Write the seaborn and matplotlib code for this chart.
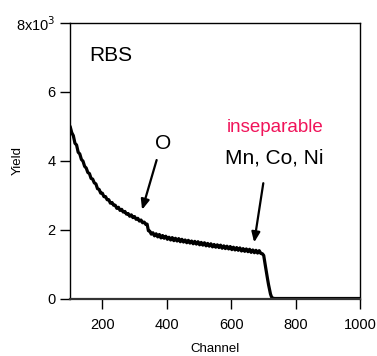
import pandas as pd
import matplotlib
matplotlib.use("Agg")
import matplotlib.pyplot as plt
import seaborn as sns

# RBS spectrum, values
channel = [100, 105, 110, 115, 120, 125, 130, 135, 140, 145, 150, 155, 160, 165, 170,
           175, 180, 185, 190, 195, 200, 205, 210, 215, 220, 225, 230, 235, 240, 245,
           250, 255, 260, 265, 270, 275, 280, 285, 290, 295, 300, 305, 310, 315, 320,
           325, 330, 335, 339, 343, 347, 352, 357, 362, 367, 372, 377, 382, 387, 392,
           397, 402, 407, 412, 417, 422, 427, 432, 437, 442, 447, 452, 457, 462, 467,
           472, 477, 482, 487, 492, 497, 502, 507, 512, 517, 522, 527, 532, 537, 542,
           547, 552, 557, 562, 567, 572, 577, 582, 587, 592, 597, 602, 607, 612, 617,
           622, 627, 632, 637, 642, 647, 652, 657, 662, 667, 672, 677, 682, 687, 692,
           697, 701, 704, 707, 710, 713, 716, 719, 722, 725, 729, 735, 745, 760, 800,
           850, 900, 950, 1000]
yield_counts = [5000, 4820, 4730, 4510, 4460, 4250, 4200, 4040, 3990, 3840, 3790, 3660, 3630, 3490, 3470,
                3360, 3330, 3190, 3170, 3060, 3060, 2960, 2960, 2870, 2870, 2770, 2790, 2710, 2710, 2620,
                2650, 2560, 2590, 2510, 2530, 2450, 2470, 2390, 2430, 2350, 2380, 2300, 2330, 2250, 2280,
                2200, 2220, 2150, 2160, 1970, 1960, 1870, 1910, 1820, 1880, 1790, 1860, 1760, 1830, 1750,
                1810, 1720, 1780, 1700, 1770, 1680, 1750, 1670, 1740, 1650, 1720, 1640, 1700, 1620, 1690,
                1610, 1670, 1590, 1660, 1580, 1650, 1560, 1630, 1550, 1620, 1530, 1600, 1520, 1590, 1500,
                1570, 1490, 1560, 1480, 1550, 1460, 1530, 1450, 1520, 1440, 1510, 1420, 1490, 1410, 1480,
                1400, 1470, 1380, 1450, 1370, 1440, 1360, 1430, 1340, 1410, 1330, 1400, 1320, 1390, 1310,
                1300, 1250, 1080, 900, 720, 560, 400, 260, 130, 50, 10, 0, 0, 0, 0,
                0, 0, 0, 0]

df = pd.DataFrame({"Channel": channel, "Yield": yield_counts})

sns.set_style("ticks")
plt.rcParams["font.family"] = ["Liberation Sans", "DejaVu Sans"]
plt.rcParams["text.color"] = "black"
plt.rcParams["axes.labelcolor"] = "black"

fig = plt.figure(figsize=(3.77, 3.56), dpi=100)
ax = fig.add_axes([0.186, 0.1615, 0.769, 0.7735])

sns.lineplot(x="Channel", y="Yield", data=df, ax=ax, color="black", linewidth=2.3)

ax.set_xlim(100, 1000)
ax.set_ylim(0, 8000)
ax.set_xticks([200, 400, 600, 800, 1000])
ax.set_yticks([0, 2000, 4000, 6000, 8000], labels=["0", "2", "4", "6", "8x10$^3$"])
ax.set_xlabel("Channel", fontsize=9.5)
ax.set_ylabel("Yield", fontsize=9.5)
ax.xaxis.set_label_coords(0.5, -0.163)
ax.yaxis.set_label_coords(-0.16, 0.5)
ax.tick_params(direction="out", length=7, width=1, labelsize=10.5, colors="black")
ax.tick_params(axis="x", pad=7)
for side in ["left", "right", "top"]:
    ax.spines[side].set_linewidth(1)
    ax.spines[side].set_color("black")
ax.spines["bottom"].set_linewidth(1.6)
ax.spines["bottom"].set_color("#333333")

ax.text(225, 7050, "RBS", fontsize=15, ha="center", va="center")
ax.text(390, 4500, "O", fontsize=15, ha="center", va="center")
ax.text(735, 4970, "inseparable", fontsize=13.5, color="#f0145a", ha="center", va="center")
ax.text(735, 4070, "Mn, Co, Ni", fontsize=15, ha="center", va="center")

arrow = dict(arrowstyle="-|>,head_length=0.6,head_width=0.25", color="black", lw=1.6)
ax.annotate("", xy=(321, 2500), xytext=(371, 4100), arrowprops=arrow)
ax.annotate("", xy=(670, 1550), xytext=(701, 3430), arrowprops=arrow)

plt.savefig("out.png", dpi=100)
